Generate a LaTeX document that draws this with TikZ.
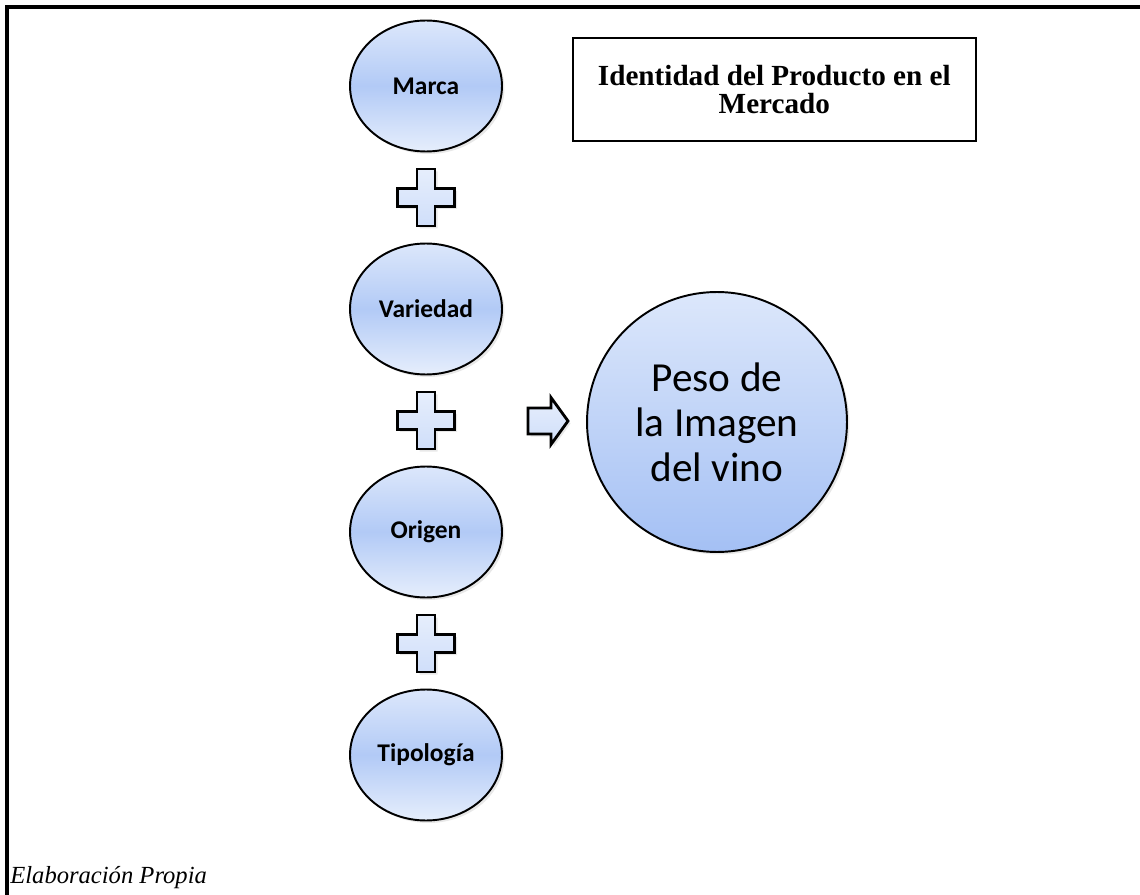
\documentclass[tikz,border=0pt]{standalone}
\usepackage{fontspec}
\setmainfont{Liberation Serif}
\newfontfamily\calibri{Carlito}
\usetikzlibrary{shapes.geometric,shadows,calc}
\definecolor{azulclaro}{HTML}{DCE7FB}
\definecolor{azulmedio}{HTML}{B2CAF6}
\definecolor{azulpalido}{HTML}{E6EEFC}
\definecolor{azulfuerte}{HTML}{A4C0F4}
\tikzset{
	sombra/.style={drop shadow={opacity=0.18,shadow xshift=0.05cm,shadow yshift=-0.05cm}},
	elipse/.style={ellipse,draw=black,line width=1.1pt,minimum width=3.04cm,minimum height=2.62cm,inner sep=0pt,
		top color=azulclaro,bottom color=azulpalido,middle color=azulmedio,sombra,
		font=\calibri\bfseries\fontsize{14.5}{17}\selectfont},
	signo/.style={draw=black,line width=1.6pt,line join=miter,top color=azulpalido,bottom color=azulclaro!70!azulmedio,sombra},
	pics/mas/.style={code={
		\draw[signo] (-9,-28.5) -- (9,-28.5) -- (9,-9) -- (28.5,-9) -- (28.5,9) -- (9,9) -- (9,28.5)
			-- (-9,28.5) -- (-9,9) -- (-28.5,9) -- (-28.5,-9) -- (-9,-9) -- cycle;}},
	pics/flecha/.style={code={
		\draw[signo] (-20,-13) -- (3,-13) -- (3,-23.5) -- (20,0) -- (3,23.5) -- (3,13) -- (-20,13) -- cycle;}}
}
\begin{document}
\begin{tikzpicture}[x=0.02cm,y=-0.02cm]
	\useasboundingbox (0,0) rectangle (1140,895);
	% marco
	\draw [line width=1.8pt] (7,895) -- (7,7) -- (1140,7);
	\coordinate (M) at (426,86);
	\coordinate (V) at (426,309);
	\coordinate (O) at (426,532);
	\coordinate (T) at (426,755);
	\coordinate (F) at (548,421);
	\coordinate (P) at (717,422);
	\node [elipse] (marca) at (M) {Marca};
	\node [elipse] (variedad) at (V) {Variedad};
	\node [elipse] (origen) at (O) {Origen};
	\node [elipse] (tipologia) at (T) {Tipología};
	\pic at ($(marca)!0.5!(variedad)$) {mas};
	\pic at ($(variedad)!0.5!(origen)$) {mas};
	\pic at ($(origen)!0.5!(tipologia)$) {mas};
	\pic at (F) {flecha};
	\node [circle,draw=black,line width=1.1pt,minimum size=5.2cm,inner sep=0pt,top color=azulclaro,bottom color=azulfuerte,sombra,
		align=center,font=\calibri\fontsize{23.5}{25.6}\selectfont] (peso) at (P) {Peso de\\la Imagen\\del vino};
	\node [draw=black,line width=1pt,anchor=north west,minimum width=8.06cm,minimum height=2.06cm,align=center,
		font=\bfseries\fontsize{16.6}{16}\selectfont] (titulo) at (572,37) {Identidad del Producto en el\\Mercado};
	\node [anchor=base west,inner sep=0pt,font=\itshape\fontsize{14}{16}\selectfont] (fuente) at (10,883) {Elaboración Propia};
\end{tikzpicture}
\end{document}
